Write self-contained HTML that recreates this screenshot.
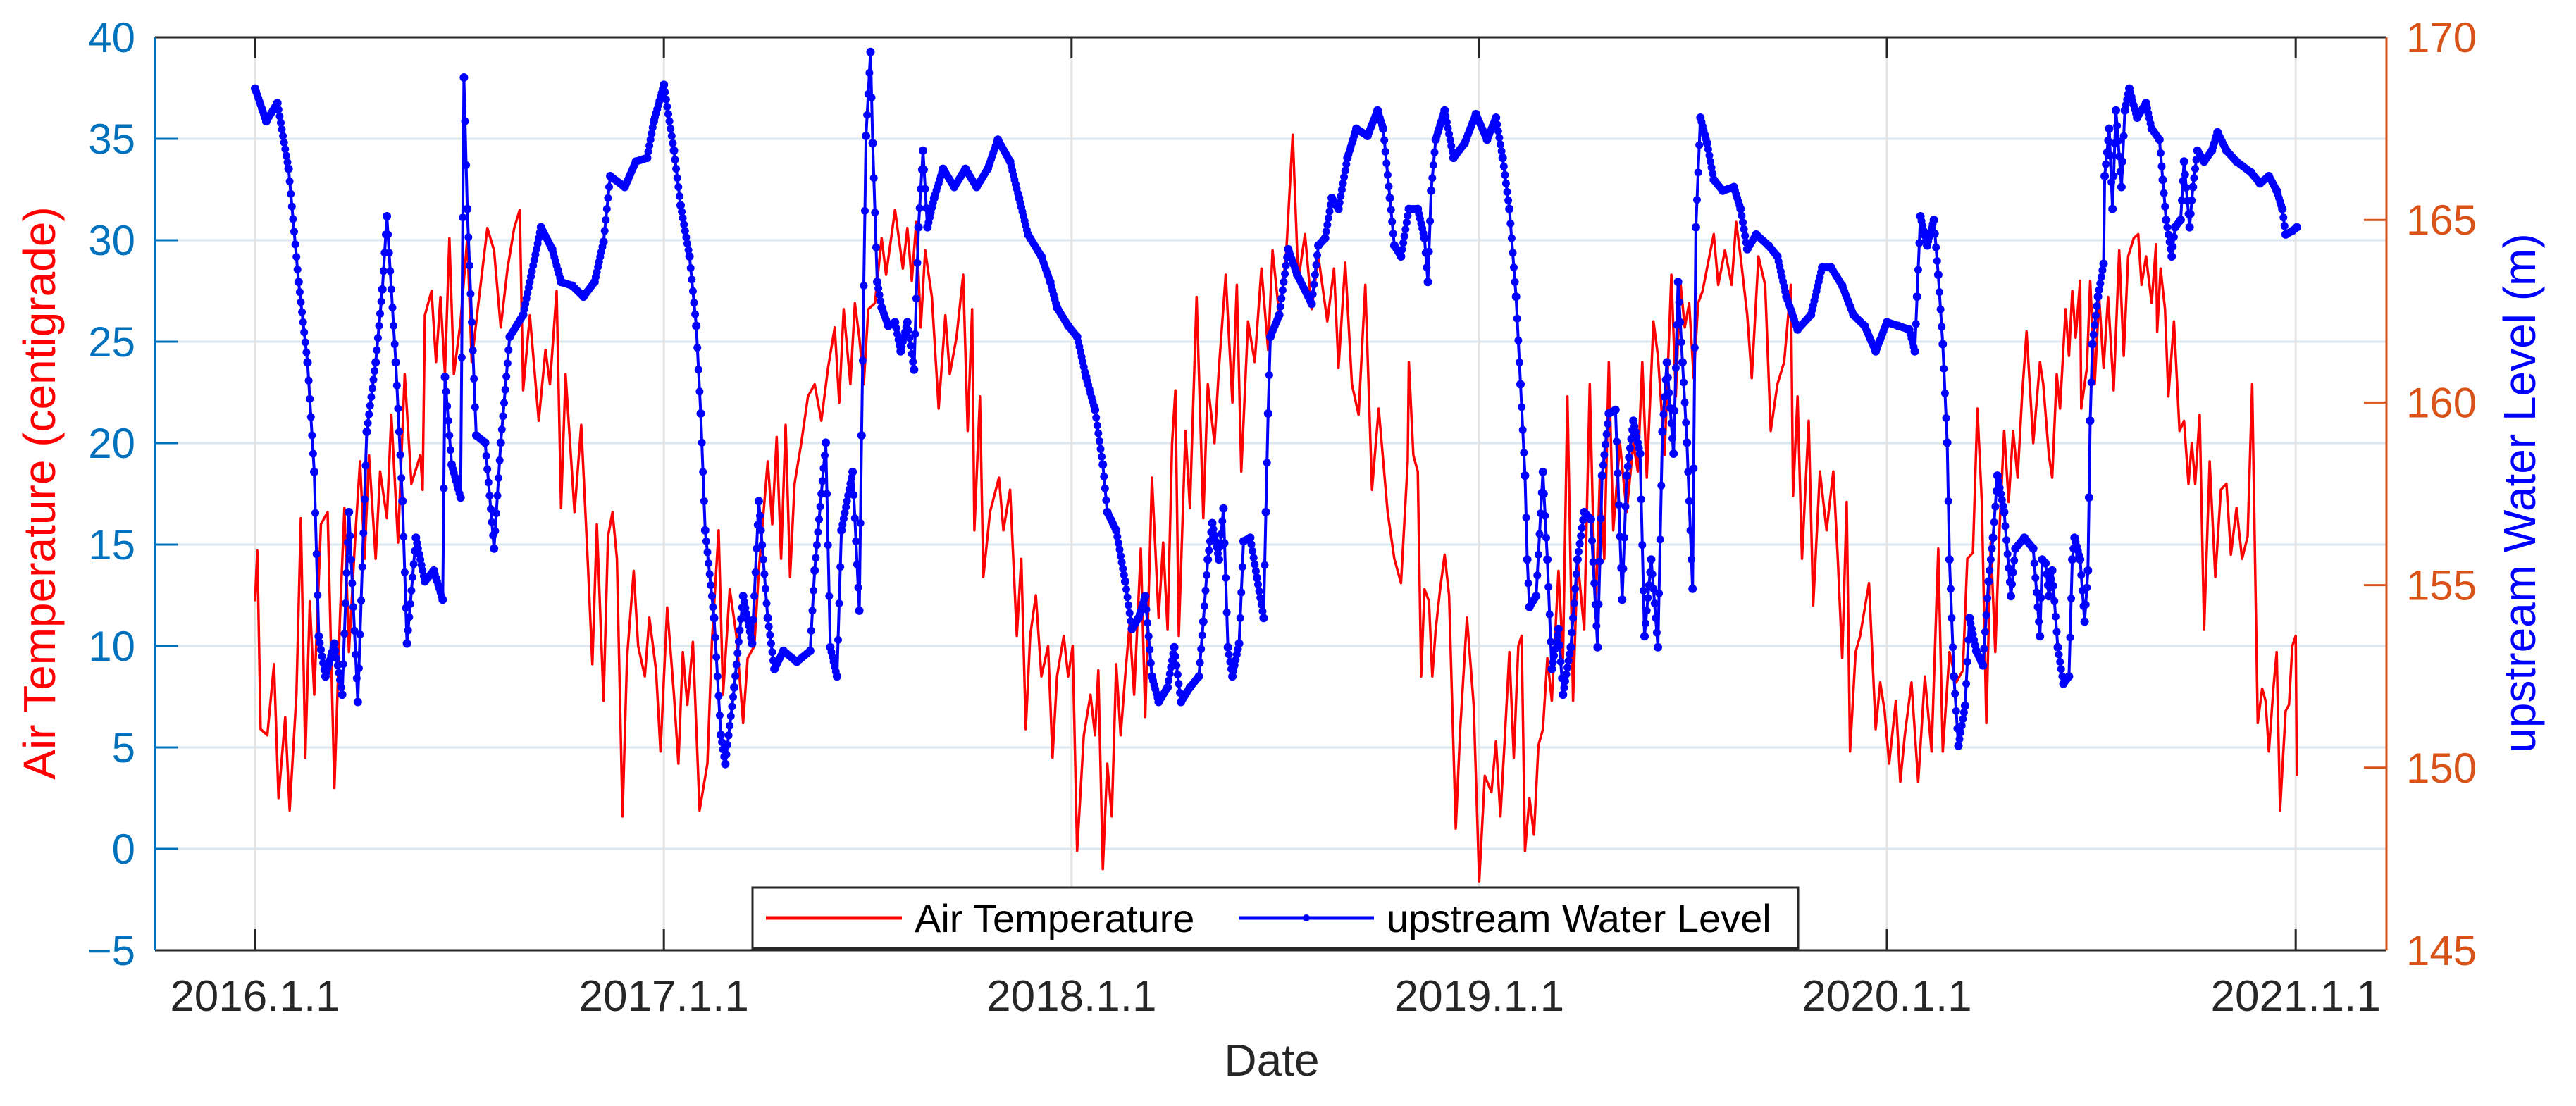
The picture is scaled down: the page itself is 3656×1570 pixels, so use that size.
<!DOCTYPE html>
<html><head><meta charset="utf-8">
<style>
html,body{margin:0;padding:0;background:#fff;}
svg{display:block;font-family:"Liberation Sans",Arial,sans-serif;}
</style></head>
<body>
<svg id="chart" width="3656" height="1570" viewBox="0 0 3656 1570" xmlns="http://www.w3.org/2000/svg">
  <rect x="0" y="0" width="3656" height="1570" fill="#fff"/>
  <g id="grid"></g>
  <g id="series"></g>
  <g id="axes"></g>
  <g id="legend">
    <rect x="1068" y="1260" width="1484" height="86" fill="#fff" stroke="#262626" stroke-width="3"/>
    <line x1="1087" y1="1303" x2="1280" y2="1303" stroke="#ff0000" stroke-width="5"/>
    <text x="1298" y="1323" font-size="56" fill="#000">Air Temperature</text>
    <line x1="1758" y1="1303" x2="1950" y2="1303" stroke="#0000ff" stroke-width="5"/>
    <circle cx="1854" cy="1303" r="5" fill="#0000ff"/>
    <text x="1968" y="1323" font-size="56" fill="#000">upstream Water Level</text>
  </g>
  <text x="1805" y="1527" font-size="64" fill="#262626" text-anchor="middle">Date</text>
  <text transform="translate(78,700) rotate(-90)" font-size="64" fill="#ff0000" text-anchor="middle">Air Temperature (centigrade)</text>
  <text transform="translate(3598,700) rotate(-90)" font-size="64" fill="#0000ff" text-anchor="middle">upstream Water Level (m)</text>
</svg>
<script>
// ---- data ----
const xTickLabels = ["2016.1.1","2017.1.1","2018.1.1","2019.1.1","2020.1.1","2021.1.1"];
const xTickDays = [0,366,731,1096,1461,1827];
const leftTicks = [-5,0,5,10,15,20,25,30,35,40];
const rightTicks = [145,150,155,160,165,170];

const tempDays = [0,2,5,11,17,21,27,31,37,41,45,49,53,59,65,71,76,80,84,90,94,98,102,108,112,118,122,128,134,140,148,150,152,158,162,166,170,174,178,184,190,194,200,208,214,220,226,232,237,240,246,254,260,264,270,274,278,286,292,298,302,306,312,316,320,324,329,333,339,343,349,353,359,363,369,375,379,383,387,392,398,405,409,415,419,425,431,437,441,447,451,459,463,467,471,475,479,483,489,495,501,507,513,519,523,527,533,537,
541,545,549,555,561,565,573,580,584,588,592,596,600,606,612,618,622,628,634,638,642,644,649,652,658,666,670,676,682,686,690,694,699,704,710,714,718,724,728,732,736,742,748,752,755,759,763,767,771,775,779,783,787,793,797,803,809,813,817,821,824,827,833,837,843,849,853,859,863,869,875,879,883,889,895,901,907,911,917,923,929,934,940,946,952,960,966,970,976,982,988,994,1000,1006,1014,1020,1026,1032,
1033,1037,1041,1044,1047,1051,1054,1057,1061,1065,1069,1075,1079,1085,1091,1096,1101,1107,1111,1115,1119,1123,1127,1131,1134,1137,1141,1145,1149,1153,1157,1161,1167,1171,1175,1180,1184,1190,1195,1200,1204,1208,1212,1216,1222,1228,1234,1238,1242,1246,1252,1256,1262,1268,1272,1276,1280,1284,1288,1292,1296,1302,1306,1310,1316,1322,1326,1330,1336,1340,1346,1352,1357,1363,1369,1375,1377,1381,1385,1391,1395,1401,1407,1413,1417,1421,1425,1428,1433,1437,1445,1451,1455,1459,1463,1469,1473,1477,1483,1489,1495,1501,1507,1511,1517,1523,1529,1533,1538,1542,1546,1550,1554,1558,1562,1566,1570,1574,1578,1582,1586,1592,1598,
1601,1606,1609,1613,1616,1621,1624,1627,1630,1634,1635,1640,1643,1647,1651,1655,1659,1664,1669,1673,1677,1682,1686,1689,1693,1698,1702,1703,1706,1710,1713,1718,1723,1727,1731,1734,1737,1741,1745,1750,1755,1760,1765,1769,1774,1779,1784,1788,1793,1797,1800,1803,1807,1810,1813,1818,1821,1824,1827,1828];
const tempValues = [12.2,14.7,5.9,5.6,9.1,2.5,6.5,1.9,7.6,16.3,4.5,12.2,7.6,16,16.6,3,11.4,16.8,9.7,15.7,19.1,14.3,19.4,14.3,18.6,16.3,21.4,15.1,23.4,18,19.4,17.7,26.3,27.5,24,27.2,23.4,30.1,23.4,26,30.1,24,26.9,30.6,29.5,25.7,28.6,30.6,31.5,22.6,26.3,21.1,24.6,22.9,27.5,16.8,23.4,16.6,20.9,14,9.1,16,7.3,15.4,16.6,14.3,1.6,9.4,13.7,10,8.5,11.4,8.8,4.8,11.9,7.6,4.2,9.7,7.1,10.2,1.9,4.2,10.2,15.7,7.6,12.8,10.5,6.2,9.4,10,13.7,19.1,16,20.3,14.3,20.9,13.4,18,20,22.3,22.9,21.1,23.7,25.7,22,26.6,22.9,26.9,
25.2,22.9,26.6,26.9,30.1,28.3,31.5,28.6,30.6,28,30.9,25.7,29.5,27.2,21.7,26.3,23.4,25.2,28.3,20.6,26.6,15.7,22.3,13.4,16.6,18.3,15.7,17.7,10.5,14.3,5.9,10.5,12.5,8.5,10,4.5,8.5,10.5,8.5,10,-0.1,5.6,7.6,5.6,8.8,-1,4.2,1.6,9.1,5.6,8.5,11.1,7.6,14.8,6.5,18.3,11.4,15.1,10.8,20,22.6,10.5,20.6,16.8,27.2,16.3,22.9,20,23.7,28.3,22,27.8,18.6,26,24,28.6,24.6,29.5,26.3,29.2,35.2,28,30.3,26.6,29.2,26,28.6,23.7,28.9,22.9,21.4,27.8,17.7,21.7,16.6,14.3,13.1,19.1,
24,19.4,18.6,8.5,12.8,12.2,8.5,10.8,12.8,14.5,12.5,1,5.9,11.4,7.1,-1.6,3.6,2.8,5.3,1.6,5.6,9.7,4.5,10,10.5,-0.1,2.5,0.7,5.1,5.9,9.4,7.3,13.7,9.4,22.3,7.3,14.3,10.8,22.9,11.4,18.3,14.3,24,15.7,20,16.6,20,18.6,24,18.3,26,24.3,19.4,28.3,22.3,28,25.7,26.9,23.2,26.9,27.5,29.2,30.3,27.8,29.5,27.8,30.9,29.2,26.3,23.2,29.2,27.8,20.6,22.9,24,27.8,17.4,22.3,14.3,21.1,12,18.6,15.7,18.6,14.3,9.4,17.1,4.8,9.7,10.5,13.1,5.9,8.2,6.8,4.2,7.3,3.3,5.6,8.2,3.3,8.5,4.8,14.8,4.8,9.7,8.2,8.8,14.3,14.6,21.7,17.1,6.2,15.1,9.7,16,20.6,17.1,20.6,18.3,22.3,25.5,20,24,
22.9,19.4,18.3,23.4,21.7,26.6,24.3,27.5,25.2,28,21.7,23.7,28,22.9,27.2,23.7,27.2,22.6,29.5,24.3,29.2,30.1,30.3,27.8,29.2,26.9,29.8,25.5,28.6,26.6,22.3,26,20.6,21.1,18,20,18,21.4,10.8,19.1,13.4,17.7,18,14.5,16.8,14.3,15.4,22.9,6.2,7.9,7.3,4.8,7.9,9.7,1.9,6.8,7.1,10,10.5,3.6];

const levelDays = [0,10,20,30,39,47,53,57,63,71,78,84,92,100,108,114,118,126,132,136,144,152,160,168,170,176,184,187,190,198,206,214,220,228,240,256,266,274,284,294,304,312,318,331,341,351,357,366,375,381,389,395,399,403,411,417,421,429,437,445,451,459,465,473,485,497,501,511,515,521,525,535,
541,543,547,551,553,557,561,567,573,578,584,590,594,598,602,608,616,626,636,646,656,665,676,684,692,704,712,718,728,736,744,752,759,763,771,779,785,791,797,803,809,817,823,829,837,845,849,853,857,863,867,871,875,881,885,891,897,903,905,907,909,917,925,933,946,952,958,964,970,978,986,996,1005,1010,1016,1020,1026,
1033,1041,1047,1050,1053,1057,1065,1073,1083,1093,1103,1111,1117,1123,1129,1133,1137,1139,1141,1147,1153,1157,1161,1167,1171,1178,1184,1190,1196,1202,1206,1212,1218,1224,1228,1234,1240,1244,1250,1256,1260,1264,1270,1274,1278,1282,1287,1290,1294,1300,1306,1314,1324,1330,1336,1344,1355,1363,1371,1381,1393,1403,1411,1421,1431,1441,1451,1461,1471,1481,1486,1488,1491,1497,1503,1507,1511,1515,1517,1521,1525,1531,1535,1541,1547,1552,1556,1560,1566,1572,1576,1584,1592,1598,
1600,1603,1606,1609,1614,1619,1624,1627,1629,1634,1638,1641,1642,1643,1645,1650,1655,1656,1660,1663,1666,1671,1674,1678,1685,1693,1698,1705,1708,1711,1716,1719,1724,1727,1732,1735,1739,1745,1752,1757,1765,1774,1787,1795,1803,1810,1815,1818,1824,1828];
const levelValues = [168.6,167.7,168.2,166.4,163.3,161.1,158.1,153.6,152.5,153.4,152.0,157.0,151.8,159.2,161.1,163.1,165.1,161.1,157.3,153.4,156.3,155.1,155.4,154.6,160.7,158.3,157.4,168.9,165.3,159.1,158.9,156.0,158.9,161.8,162.4,164.8,164.2,163.3,163.2,162.9,163.3,164.4,166.2,165.9,166.6,166.7,167.7,168.7,166.9,165.4,164.0,162.1,159.7,156.5,154.1,150.9,150.1,152.2,154.7,153.4,157.3,154.1,152.7,153.2,152.9,153.2,155.4,158.9,153.3,152.5,156.5,158.1,
154.3,159.1,167.3,169.6,167.1,163.3,162.6,162.1,162.2,161.4,162.2,160.9,164.8,166.9,164.8,165.6,166.4,165.9,166.4,165.9,166.4,167.2,166.6,165.6,164.6,164.0,163.3,162.6,162.1,161.8,160.7,159.8,158.3,157.0,156.5,155.1,153.8,154.1,154.7,152.5,151.8,152.2,153.3,151.8,152.2,152.5,154.0,155.7,156.7,155.7,157.1,153.3,152.5,153.4,156.2,156.3,155.2,154.1,157.0,159.7,161.8,162.4,164.2,163.5,162.7,164.3,164.5,165.6,165.3,166.7,167.5,167.3,168.0,167.5,165.6,164.3,164.0,
165.3,165.3,164.5,163.3,165.8,167.2,168.0,166.7,167.1,167.9,167.2,167.8,166.7,165.3,162.9,160.5,158.0,155.7,154.4,154.7,158.1,155.7,152.7,153.8,152.0,153.3,155.7,157.0,156.8,153.3,158.0,159.7,159.8,154.6,158.0,159.5,158.6,153.6,155.7,153.3,159.2,161.1,158.6,163.3,161.1,158.9,154.9,164.8,167.8,167.1,166.1,165.8,165.9,165.3,164.2,164.6,164.3,164.0,162.9,162.0,162.4,163.7,163.7,163.2,162.4,162.1,161.4,162.2,162.1,162.0,161.4,162.9,165.1,164.3,165.0,163.5,161.6,158.9,155.7,152.5,150.6,151.7,154.1,153.2,152.8,155.1,156.3,158.0,157.0,154.7,156.0,156.3,156.0,153.6,
155.7,155.6,154.7,155.4,153.3,152.3,152.5,155.7,156.3,155.7,154.0,155.4,157.4,159.5,161.6,162.9,163.8,166.2,167.5,165.3,168.0,165.9,168.0,168.6,167.8,168.2,167.5,167.2,166.1,165.0,164.0,164.8,165.0,166.6,164.8,165.9,166.9,166.6,166.9,167.4,166.9,166.6,166.3,166.0,166.2,165.8,165.3,164.6,164.7,164.8];

// ---- layout ----
const PL=220, PR=3387, PT=53, PB=1349;
const X0=362, PXDAY=579/365.25;
function xS(d){return X0 + d*PXDAY;}
function yL(v){return PT + (40-v)*(PB-PT)/45;}
function yR(v){return PT + (170-v)*(PB-PT)/25;}
const NS="http://www.w3.org/2000/svg";
function mk(tag, attrs, parent){const e=document.createElementNS(NS,tag);for(const k in attrs)e.setAttribute(k,attrs[k]);parent.appendChild(e);return e;}

const grid=document.getElementById('grid');
const axes=document.getElementById('axes');
const series=document.getElementById('series');

leftTicks.forEach(v=>{
  const y=yL(v);
  if(v>-5&&v<40){
    const g=mk('line',{x1:PL,x2:PR,y1:y,y2:y,stroke:'#dde7f0','stroke-width':3},grid);
    
    
  }
  const t=mk('line',{x1:PL,x2:PL+32,y1:y,y2:y,stroke:'#0072BD','stroke-width':3},axes);
  
  
  const l=mk('text',{x:PL-28,y:y+21,'font-size':60,fill:'#0072BD','text-anchor':'end'},axes);
  l.textContent=(v<0?'\u2212'+Math.abs(v):String(v));
  
  
});
rightTicks.forEach(v=>{
  const y=yR(v);
  const t=mk('line',{x1:PR-32,x2:PR,y1:y,y2:y,stroke:'#D95319','stroke-width':3},axes);
  
  
  const l=mk('text',{x:PR+28,y:y+21,'font-size':60,fill:'#D95319','text-anchor':'start'},axes);
  l.textContent=String(v);
  
  
});
xTickDays.forEach((d,i)=>{
  const x=xS(d);
  const g=mk('line',{x1:x,x2:x,y1:PT,y2:PB,stroke:'#e3e3e3','stroke-width':3},grid);
  
  
  const t1=mk('line',{x1:x,x2:x,y1:PB,y2:PB-30,stroke:'#262626','stroke-width':3},axes);
  
  
  const t2=mk('line',{x1:x,x2:x,y1:PT,y2:PT+30,stroke:'#262626','stroke-width':3},axes);
  
  
  const l=mk('text',{x:x,y:1435,'font-size':62,fill:'#262626','text-anchor':'middle'},axes);
  l.textContent=xTickLabels[i];
  
  
});
// axis frame
const ft=mk('line',{x1:PL,x2:PR,y1:PT,y2:PT,stroke:'#262626','stroke-width':3},axes);


const fb=mk('line',{x1:PL,x2:PR,y1:PB,y2:PB,stroke:'#262626','stroke-width':3},axes);


const fl=mk('line',{x1:PL,x2:PL,y1:PT,y2:PB,stroke:'#0072BD','stroke-width':3},axes);


const fr=mk('line',{x1:PR,x2:PR,y1:PT,y2:PB,stroke:'#D95319','stroke-width':3},axes);



// temperature line
const tp=tempDays.map((d,i)=>xS(d).toFixed(1)+','+yL(tempValues[i]).toFixed(1)).join(' ');
const tl=mk('polyline',{points:tp,fill:'none',stroke:'#ff0000','stroke-width':3.5,'stroke-linejoin':'round'},series);



// water level line with markers
const lp=levelDays.map((d,i)=>xS(d).toFixed(1)+','+yR(levelValues[i]).toFixed(1)).join(' ');
const ll=mk('polyline',{points:lp,fill:'none',stroke:'#0000ff','stroke-width':4,'stroke-linejoin':'round'},series);


const mg=mk('g',{fill:'#0000ff'},series);


for(let i=0;i<levelDays.length;i++){
  const x1=xS(levelDays[i]), y1=yR(levelValues[i]);
  const c=mk('circle',{cx:x1.toFixed(1),cy:y1.toFixed(1),r:6},mg);
  
  
  if(i+1<levelDays.length){
    const x2=xS(levelDays[i+1]), y2=yR(levelValues[i+1]);
    const n=Math.max(0,levelDays[i+1]-levelDays[i]-1);
    for(let k=1;k<=n;k++){
      const f=k/(n+1);
      const c2=mk('circle',{cx:(x1+(x2-x1)*f).toFixed(1),cy:(y1+(y2-y1)*f).toFixed(1),r:5.5},mg);
      
      
    }
  }
}
// keep legend on top
document.getElementById('chart').appendChild(document.getElementById('legend'));
</script>
</body></html>
